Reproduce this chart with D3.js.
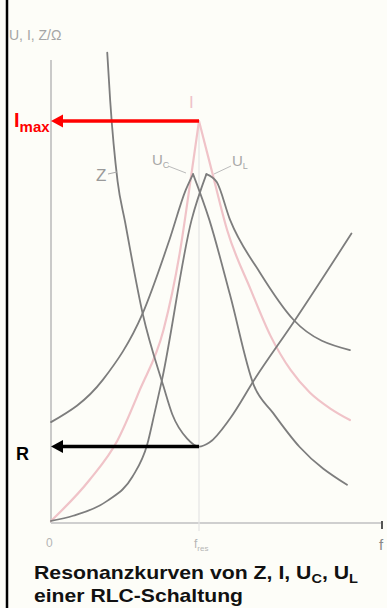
<!DOCTYPE html>
<html>
<head>
<meta charset="utf-8">
<script src="https://cdn.jsdelivr.net/npm/d3@7"></script>
<style>
  html, body { margin: 0; padding: 0; background: #fdfdf8; }
  svg { display: block; }
</style>
</head>
<body>
<svg id="chart" width="387" height="608"></svg>
<script>
// frequency relative to f_res, values in arbitrary units (I_max = 100)
const zF = [0.38, 0.40, 0.45, 0.50, 0.62, 0.76, 0.82, 0.92, 1.00, 1.07, 1.21, 1.38, 1.64, 2.03];
const zV = [117, 105, 85, 75, 52, 34, 27, 21, 19, 20, 26, 36, 50, 72];

const iLeftF = [0, 0.26, 0.45, 0.60, 0.76, 0.87, 0.95, 1.00];
const iLeftV = [0.5, 10.7, 20.6, 33.1, 48, 67.2, 87.1, 100];
const iRightF = [1.00, 1.09, 1.19, 1.35, 1.48, 1.62, 1.75, 1.89, 2.02];
const iRightV = [100, 87.1, 72.9, 58, 46.8, 38, 32.4, 28.4, 25.6];

const ucLeftF = [0, 0.35, 0.62, 0.80, 0.91, 0.96];
const ucLeftV = [25.1, 35.6, 52.2, 70.4, 82.8, 86.8];
const ucRightF = [0.96, 1.07, 1.21, 1.37, 1.50, 1.68, 2.00];
const ucRightV = [86.8, 75.4, 56.7, 34.3, 27.4, 18.9, 9.5];

const ulLeftF = [0, 0.15, 0.38, 0.55, 0.65, 0.70, 0.75, 0.95, 1.05];
const ulLeftV = [0.5, 1.8, 5.5, 11.5, 19.5, 27.4, 35.6, 75.4, 86.8];
const ulRightF = [1.05, 1.12, 1.21, 1.41, 1.64, 2.02];
const ulRightV = [86.8, 84.8, 75.4, 62.4, 50.5, 43.0];

const fRes = 1;
const iMax = 100;
const rValue = 19;

const svg = d3.select('#chart');
const x = d3.scaleLinear().domain([0, 1]).range([51, 199]);
const y = d3.scaleLinear().domain([0, 100]).range([523, 121]);

const zip = (fs, vs) => fs.map((f, i) => [f, vs[i]]);
const line = d3.line().x(d => x(d[0])).y(d => y(d[1])).curve(d3.curveMonotoneX);

// left frame line
svg.append('line').attr('x1', 7).attr('x2', 7).attr('y1', 0).attr('y2', 608)
  .attr('stroke', '#000').attr('stroke-width', 2.5);

// axes (scanned look)
svg.append('line').attr('x1', x(0)).attr('x2', x(0)).attr('y1', 60).attr('y2', y(0))
  .attr('stroke', '#bdbdbd').attr('stroke-width', 1.6);
svg.append('line').attr('x1', x(0)).attr('x2', 383).attr('y1', y(0)).attr('y2', y(0))
  .attr('stroke', '#cfcfcf').attr('stroke-width', 2);
svg.append('line').attr('x1', 382).attr('x2', 382).attr('y1', y(0) - 2).attr('y2', y(0) + 6)
  .attr('stroke', '#555').attr('stroke-width', 2);
// faint guide at f_res
svg.append('line').attr('x1', x(fRes)).attr('x2', x(fRes)).attr('y1', y(iMax)).attr('y2', y(0) + 8)
  .attr('stroke', '#e4e4e4').attr('stroke-width', 1.2);

const curves = svg.append('g').attr('fill', 'none').attr('stroke-linecap', 'round');
[[iLeftF, iLeftV], [iRightF, iRightV]].forEach(([f, v]) => {
  curves.append('path').attr('d', line(zip(f, v)))
    .attr('stroke', '#f0c3c8').attr('stroke-width', 2.2);
});
[[zF, zV], [ucLeftF, ucLeftV], [ucRightF, ucRightV], [ulLeftF, ulLeftV], [ulRightF, ulRightV]].forEach(([f, v]) => {
  curves.append('path').attr('d', line(zip(f, v)))
    .attr('stroke', '#7d7d7d').attr('stroke-width', 1.8);
});

// curve labels (faint, like the scan)
const lab = svg.append('g').attr('font-family', 'Liberation Sans, Arial, sans-serif');
lab.append('text').attr('x', 9).attr('y', 40).attr('font-size', 14).attr('fill', '#a5a5a5').text('U, I, Z/Ω');
lab.append('text').attr('x', 96).attr('y', 181).attr('font-size', 17).attr('fill', '#9a9a9a').text('Z');
svg.append('line').attr('x1', 108).attr('x2', 117).attr('y1', 174).attr('y2', 172).attr('stroke', '#aaa');
const uc = lab.append('text').attr('x', 152).attr('y', 165).attr('font-size', 15).attr('fill', '#a8a8a8');
uc.append('tspan').text('U');
uc.append('tspan').attr('font-size', 9).attr('dy', 3).text('C');
svg.append('line').attr('x1', 168).attr('x2', 186).attr('y1', 166).attr('y2', 173).attr('stroke', '#bbb');
const ul = lab.append('text').attr('x', 232).attr('y', 166).attr('font-size', 15).attr('fill', '#a8a8a8');
ul.append('tspan').text('U');
ul.append('tspan').attr('font-size', 9).attr('dy', 3).text('L');
svg.append('line').attr('x1', 231).attr('x2', 214).attr('y1', 166).attr('y2', 174).attr('stroke', '#bbb');
lab.append('text').attr('x', 189).attr('y', 108).attr('font-size', 17).attr('fill', '#efc3c8').text('I');
lab.append('text').attr('x', 46).attr('y', 547).attr('font-size', 12).attr('fill', '#b5b5b5').text('0');
const fr = lab.append('text').attr('x', 194).attr('y', 548).attr('font-size', 12).attr('fill', '#b5b5b5');
fr.append('tspan').text('f');
fr.append('tspan').attr('font-size', 8).attr('dy', 3).text('res');
lab.append('text').attr('x', 379).attr('y', 550).attr('font-size', 15).attr('fill', '#888').text('f');

// arrows
function arrow(yv, color) {
  const yy = y(yv);
  svg.append('line').attr('x1', x(fRes)).attr('x2', x(0) + 8).attr('y1', yy).attr('y2', yy)
    .attr('stroke', color).attr('stroke-width', 3.5);
  svg.append('path')
    .attr('d', `M${x(0)},${yy} L${x(0) + 12},${yy - 6.5} L${x(0) + 12},${yy + 6.5} Z`)
    .attr('fill', color);
}
arrow(iMax, '#ff0000');
arrow(rValue, '#000');

const bold = svg.append('g').attr('font-family', 'Liberation Sans, Arial, sans-serif').attr('font-weight', 'bold');
const im = bold.append('text').attr('x', 14).attr('y', 127).attr('fill', '#ff0000').attr('font-size', 20);
im.append('tspan').text('I');
im.append('tspan').attr('font-size', 15).attr('dy', 5).text('max');
bold.append('text').attr('x', 16).attr('y', 460).attr('font-size', 18).attr('fill', '#000').text('R');

const cap1 = bold.append('text').attr('x', 34).attr('y', 579).attr('font-size', 19).attr('fill', '#111')
  .attr('textLength', 324).attr('lengthAdjust', 'spacingAndGlyphs');
cap1.append('tspan').text('Resonanzkurven von Z, I, U');
cap1.append('tspan').attr('font-size', 13).attr('dy', 4).text('C');
cap1.append('tspan').attr('dy', -4).text(', U');
cap1.append('tspan').attr('font-size', 13).attr('dy', 4).text('L');
bold.append('text').attr('x', 34).attr('y', 602).attr('font-size', 19).attr('fill', '#111')
  .attr('textLength', 209).attr('lengthAdjust', 'spacingAndGlyphs').text('einer RLC-Schaltung');
</script>
</body>
</html>
